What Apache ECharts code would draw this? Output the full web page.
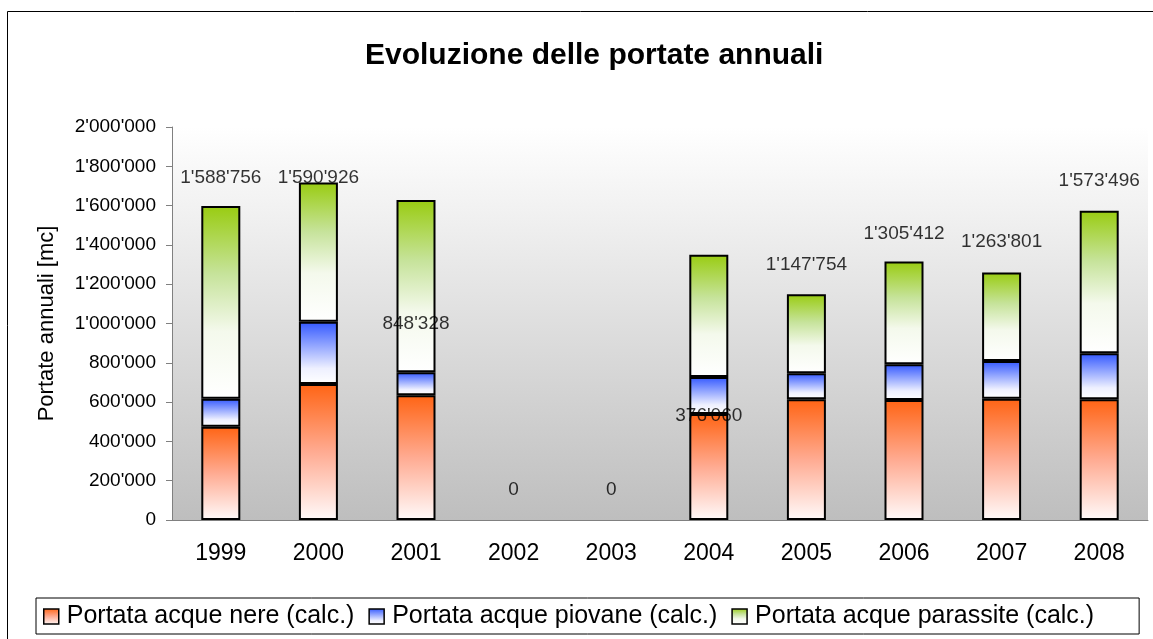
<!DOCTYPE html>
<html>
    <head>
        <meta charset="utf-8">
        <title>Evoluzione delle portate annuali</title>
        <script src="https://cdn.jsdelivr.net/npm/echarts@6/dist/echarts.min.js"></script>
        <style>
            body { margin: 0; background: #fff; }
        </style>
    </head>
    <body>
        <div id="portate" style="width: 1153px;height: 639px;"></div>
        <script>
            var anni = ['1999', '2000', '2001', '2002', '2003', '2004', '2005', '2006', '2007', '2008'];
            // valori, in mc
            var acqueNere = [475000, 692000, 635000, null, null, 539000, 614000, 611000, 617000, 614000];
            var acquePiovane = [142000, 317000, 117000, null, null, 189000, 133000, 181000, 192000, 234000];
            var acqueParassite = [981000, 708000, 876000, null, null, 622000, 402000, 523000, 451000, 726000];
            // etichette sopra le barre
            var etichette = [1588756, 1590926, 848328, 0, 0, 376060, 1147754, 1305412, 1263801, 1573496];

            var font = 'Liberation Sans, Arial, sans-serif';

            function fmt(v) {
                return String(v).replace(/\B(?=(\d{3})+(?!\d))/g, "'");
            }

            var myChart = echarts.init(document.getElementById('portate'));

            var barStyle = function (color) {
                return {
                    color: color,
                    borderColor: '#000',
                    borderWidth: 2
                };
            };

            option = {
                animation: false,
                textStyle: {fontFamily: font},
                title: {
                    text: 'Evoluzione delle portate annuali',
                    left: 360,
                    top: 36,
                    textStyle: {fontSize: 30, fontWeight: 'bold', color: '#000', fontFamily: font}
                },
                graphic: [{
                    type: 'rect',
                    shape: {x: 7.5, y: 11.5, width: 1300, height: 800},
                    style: {fill: 'none', stroke: '#000', lineWidth: 1}
                }],
                legend: {
                    data: ['Portata acque nere (calc.)', 'Portata acque piovane (calc.)', 'Portata acque parassite (calc.)'],
                    left: 36,
                    top: 598,
                    icon: 'rect',
                    itemWidth: 15,
                    itemHeight: 15,
                    itemGap: 14,
                    padding: [6, 45, 5, 7],
                    borderColor: '#000',
                    borderWidth: 1,
                    itemStyle: {borderWidth: 1.5, borderColor: '#000'},
                    textStyle: {fontSize: 25, color: '#000', fontFamily: font, padding: [0, 0, 0, 3]}
                },
                grid: {
                    left: 172,
                    right: 5,
                    top: 127,
                    bottom: 119,
                    show: true,
                    borderWidth: 0,
                    backgroundColor: new echarts.graphic.LinearGradient(0, 0, 0, 1, [
                        {offset: 0, color: '#ffffff'},
                        {offset: 1, color: '#bebebe'}
                    ])
                },
                xAxis: {
                    type: 'category',
                    data: anni,
                    axisLine: {lineStyle: {color: '#808080', width: 1}},
                    axisTick: {length: 6, lineStyle: {color: '#808080'}},
                    axisLabel: {fontSize: 23, color: '#000', margin: 22}
                },
                yAxis: {
                    type: 'value',
                    min: 0,
                    max: 2000000,
                    interval: 200000,
                    name: 'Portate annuali [mc]',
                    nameLocation: 'middle',
                    nameRotate: 90,
                    nameGap: 114,
                    nameTextStyle: {fontSize: 22, color: '#000'},
                    axisLine: {show: true, lineStyle: {color: '#808080', width: 1}},
                    axisTick: {show: true, length: 6, lineStyle: {color: '#808080'}},
                    splitLine: {show: false},
                    axisLabel: {fontSize: 19, color: '#000', margin: 16, formatter: fmt}
                },
                series: [{
                    name: 'Portata acque nere (calc.)',
                    type: 'bar',
                    stack: 'portate',
                    barWidth: 39,
                    data: acqueNere,
                    itemStyle: barStyle(new echarts.graphic.LinearGradient(0, 0, 0, 1, [
                        {offset: 0, color: '#ff6414'},
                        {offset: 0.5, color: '#ffab92'},
                        {offset: 1, color: '#fffafa'}
                    ]))
                }, {
                    name: 'Portata acque piovane (calc.)',
                    type: 'bar',
                    stack: 'portate',
                    data: acquePiovane,
                    itemStyle: barStyle(new echarts.graphic.LinearGradient(0, 0, 0, 1, [
                        {offset: 0, color: '#3358ff'},
                        {offset: 0.75, color: '#eef0ff'},
                        {offset: 1, color: '#ffffff'}
                    ]))
                }, {
                    name: 'Portata acque parassite (calc.)',
                    type: 'bar',
                    stack: 'portate',
                    data: acqueParassite,
                    itemStyle: barStyle(new echarts.graphic.LinearGradient(0, 0, 0, 1, [
                        {offset: 0, color: '#99cc11'},
                        {offset: 0.35, color: '#c6e39a'},
                        {offset: 0.65, color: '#f4f9ec'},
                        {offset: 1, color: '#ffffff'}
                    ]))
                }, {
                    name: 'etichette',
                    type: 'scatter',
                    data: etichette,
                    symbolSize: 1,
                    itemStyle: {color: 'rgba(0,0,0,0)'},
                    z: 10,
                    label: {
                        show: true,
                        position: 'top',
                        distance: 20,
                        fontSize: 19,
                        color: '#000',
                        fontFamily: font,
                        formatter: function (p) { return fmt(p.value); }
                    }
                }]
            };

            myChart.setOption(option);
        </script>
    </body>
</html>
